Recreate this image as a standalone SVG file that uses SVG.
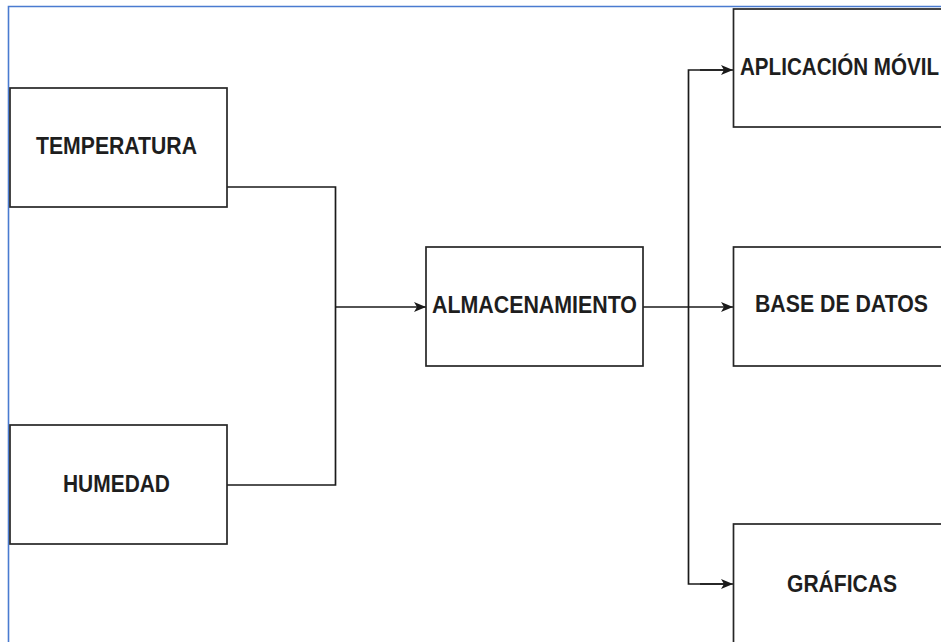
<svg xmlns="http://www.w3.org/2000/svg" width="941" height="642" viewBox="0 0 941 642">
  <style>
    .box { fill: #ffffff; stroke: #262626; stroke-width: 1.7; }
    .lbl { font-family: "Liberation Sans", Arial, sans-serif; font-size: 24px; fill: #1e1e1e; text-anchor: middle; font-weight: bold; }
    .wire { fill: none; stroke: #1a1a1a; stroke-width: 1.7; }
    .frame { fill: none; stroke: #4a7bd0; stroke-width: 1.6; }
  </style>
  <defs>
    <marker id="arrow" viewBox="0 0 12 10" refX="12" refY="5" markerWidth="12" markerHeight="10" markerUnits="userSpaceOnUse" orient="auto">
      <path d="M0,0 L12,5 L0,10 L3,5 Z" fill="#1a1a1a"/>
    </marker>
  </defs>

  <rect width="941" height="642" fill="#ffffff"/>
  <!-- page frame -->
  <polyline class="frame" points="8.5,642 8.5,6.5 941,6.5"/>

  <g id="connectors">
    <polyline class="wire" points="227,187 335.5,187 335.5,485 227,485"/>
    <line class="wire" x1="335.5" y1="307" x2="426" y2="307" marker-end="url(#arrow)"/>
    <line class="wire" x1="643" y1="307" x2="733" y2="307" marker-end="url(#arrow)"/>
    <polyline class="wire" points="725,70 688.5,70 688.5,584 725,584"/>
    <line class="wire" x1="700" y1="70" x2="733" y2="70" marker-end="url(#arrow)"/>
    <line class="wire" x1="700" y1="584" x2="733" y2="584" marker-end="url(#arrow)"/>
  </g>

  <g id="temperatura">
    <rect class="box" x="10" y="88" width="217" height="119"/>
    <text class="lbl" x="116.5" y="154" textLength="161" lengthAdjust="spacingAndGlyphs">TEMPERATURA</text>
  </g>
  <g id="humedad">
    <rect class="box" x="10" y="425" width="217" height="119"/>
    <text class="lbl" x="116.5" y="492" textLength="107" lengthAdjust="spacingAndGlyphs">HUMEDAD</text>
  </g>
  <g id="almacenamiento">
    <rect class="box" x="426" y="247" width="217" height="119"/>
    <text class="lbl" x="534.5" y="313" textLength="205" lengthAdjust="spacingAndGlyphs">ALMACENAMIENTO</text>
  </g>
  <g id="aplicacion-movil">
    <rect class="box" x="733.5" y="9" width="217" height="118"/>
    <text class="lbl" x="839.5" y="75" textLength="199" lengthAdjust="spacingAndGlyphs">APLICACIÓN MÓVIL</text>
  </g>
  <g id="base-de-datos">
    <rect class="box" x="733.5" y="247" width="217" height="119"/>
    <text class="lbl" x="841.5" y="312" textLength="173" lengthAdjust="spacingAndGlyphs">BASE DE DATOS</text>
  </g>
  <g id="graficas">
    <rect class="box" x="733.5" y="524" width="217" height="130"/>
    <text class="lbl" x="842" y="592" textLength="110" lengthAdjust="spacingAndGlyphs">GRÁFICAS</text>
  </g>
</svg>
